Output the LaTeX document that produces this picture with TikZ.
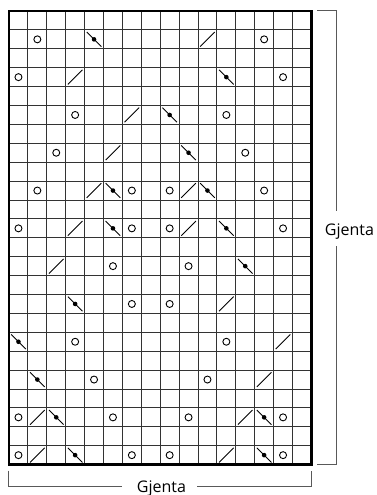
\documentclass[tikz,border=0pt]{standalone}
\usepackage{fontspec}
\setmainfont{Open Sans}
\begin{document}
\begin{tikzpicture}[x=1pt,y=-1pt,
  gridline/.style={draw=black!80,line width=0.9pt},
  frame/.style={draw=black,line width=2.3pt},
  sym/.style={draw=black,line width=0.9pt},
  bracket/.style={draw=black!65,line width=1pt},
  lbl/.style={font=\fontsize{16}{18}\selectfont,inner sep=0pt,anchor=base}]
\useasboundingbox (0,0) rectangle (377,495);
\def\cs{18.9}
\def\ox{9}
\def\oy{11}
% grid
\foreach \i in {1,...,15}
  \draw[gridline] ({\ox+\i*\cs},\oy) -- ({\ox+\i*\cs},{\oy+24*\cs});
\foreach \j in {1,...,23}
  \draw[gridline] (\ox,{\oy+\j*\cs}) -- ({\ox+16*\cs},{\oy+\j*\cs});
\draw[frame] (\ox,\oy) rectangle ({\ox+16*\cs},{\oy+24*\cs});
% circles (yarn over)
\foreach \c/\r in {1/1,13/1, 0/3,14/3, 3/5,11/5, 2/7,12/7,
  1/9,6/9,8/9,13/9, 0/11,6/11,8/11,14/11, 5/13,9/13, 6/15,8/15,
  3/17,11/17, 4/19,10/19, 0/21,5/21,9/21,14/21, 0/23,6/23,8/23,14/23}
  \draw[sym] ({\ox+(\c+0.5)*\cs},{\oy+(\r+0.5)*\cs}) circle[radius=3.5];
% slashes
\foreach \c/\r in {10/1, 3/3, 6/5, 5/7, 4/9,9/9, 3/11,9/11, 2/13, 11/15,
  14/17, 13/19, 1/21,12/21, 1/23,11/23}
  \draw[sym] ({\ox+(\c+0.5)*\cs-7.3},{\oy+(\r+0.5)*\cs+7.3}) -- ({\ox+(\c+0.5)*\cs+7.3},{\oy+(\r+0.5)*\cs-7.3});
% backslash with dot
\foreach \c/\r in {4/1, 11/3, 8/5, 9/7, 5/9,10/9, 5/11,11/11, 12/13, 3/15,
  0/17, 1/19, 2/21,13/21, 3/23,13/23}{
  \draw[sym] ({\ox+(\c+0.5)*\cs-7.3},{\oy+(\r+0.5)*\cs-7.3}) -- ({\ox+(\c+0.5)*\cs+7.3},{\oy+(\r+0.5)*\cs+7.3});
  \fill ({\ox+(\c+0.5)*\cs},{\oy+(\r+0.5)*\cs}) circle[radius=2.3];
}
% right bracket
\node[lbl] (rlab) at (349.5,235) {Gjenta};
\draw[bracket] (317,11) -- (336,11) -- (336,211);
\draw[bracket] (336,246) -- (336,464) -- (317,464);
% bottom bracket
\node[lbl] (blab) at (161.5,492.5) {Gjenta};
\draw[bracket] (8,470.7) -- (8,486) -- (122,486);
\draw[bracket] (197,486) -- (311,486) -- (311,470.7);
\end{tikzpicture}
\end{document}
